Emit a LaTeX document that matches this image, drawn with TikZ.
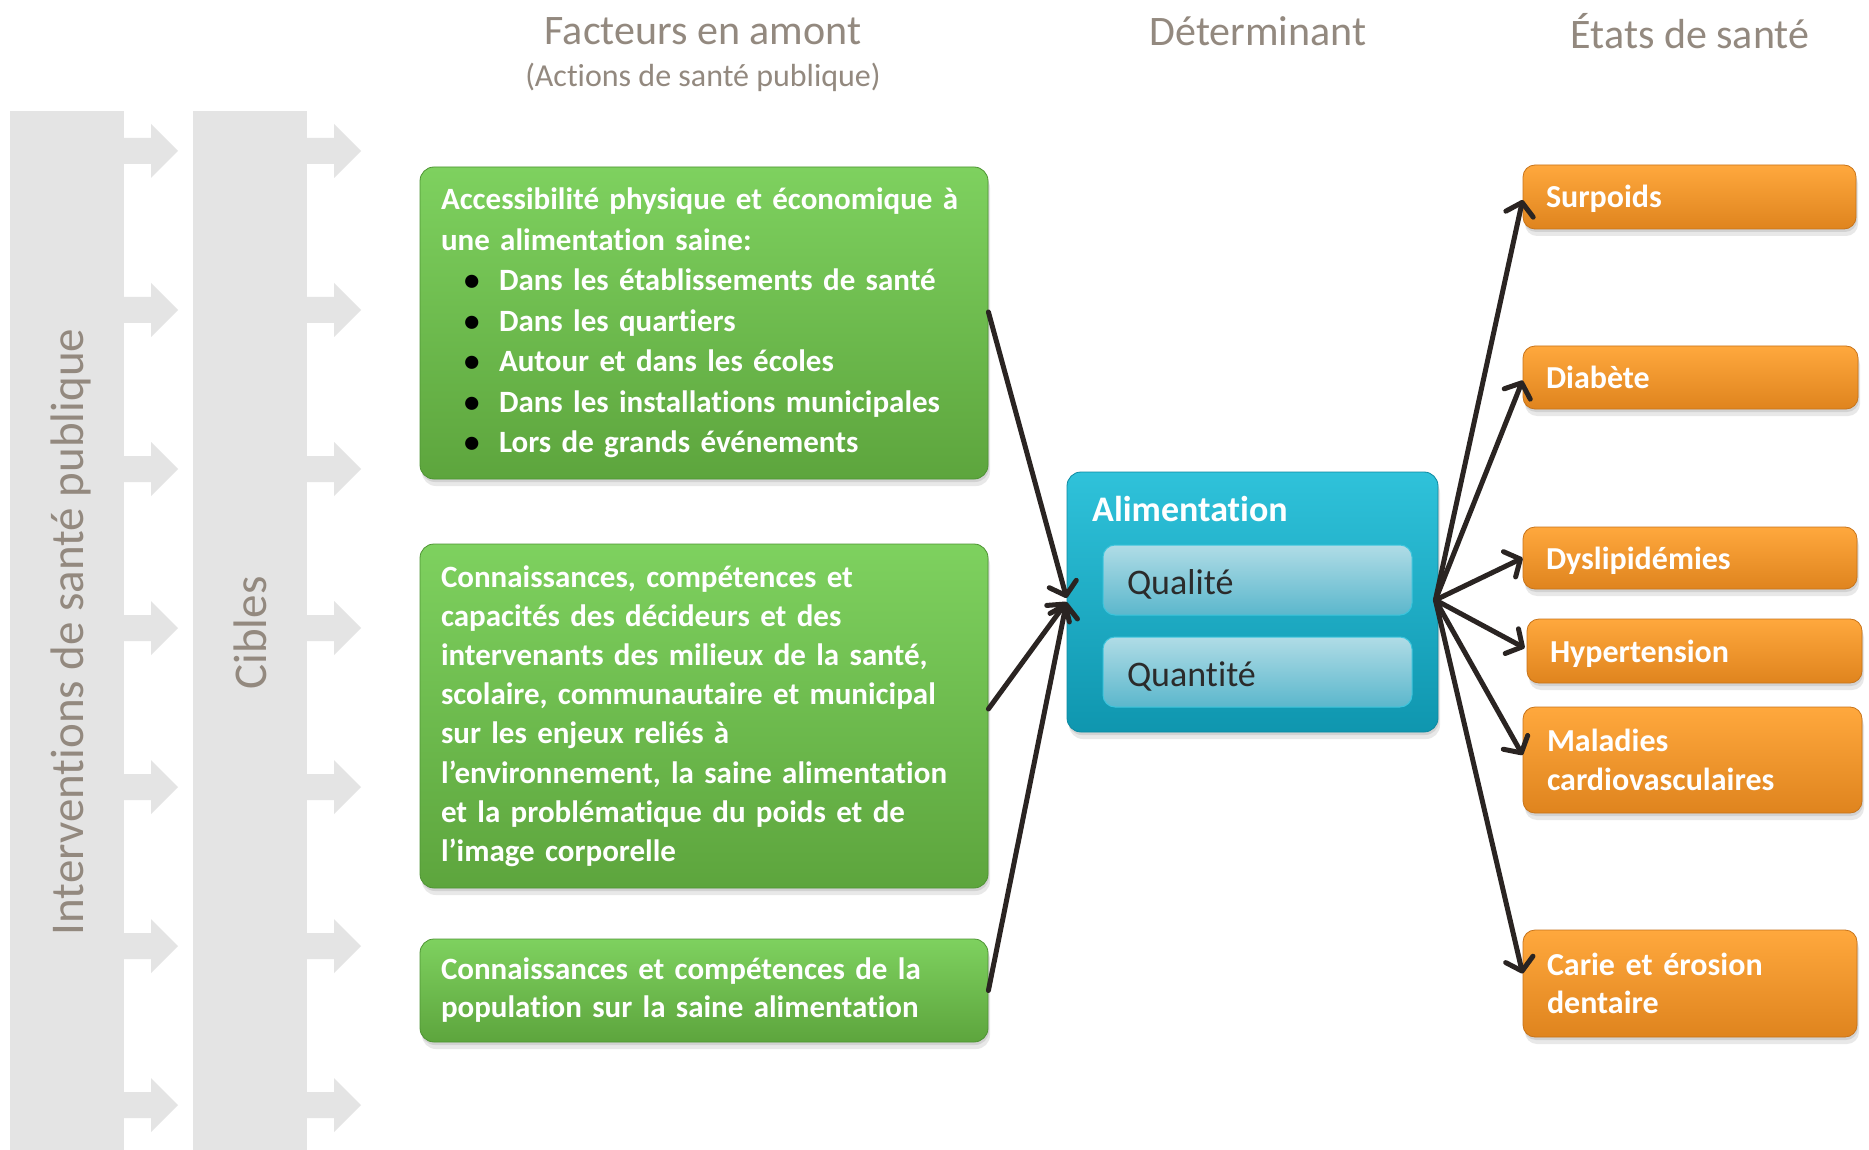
\documentclass[tikz,border=0pt]{standalone}
\usepackage{fontspec}
\setmainfont{Carlito}[Ligatures={NoCommon}]
\usetikzlibrary{arrows.meta,shadows,calc}

\definecolor{bandgray}{HTML}{E4E4E4}
\definecolor{labelgray}{HTML}{93897F}
\definecolor{linec}{HTML}{2A2422}
\definecolor{greenT}{HTML}{7ED15F}
\definecolor{greenB}{HTML}{5DA53D}
\definecolor{greenE}{HTML}{4E9433}
\definecolor{orangeT}{HTML}{FFA83D}
\definecolor{orangeB}{HTML}{DF841E}
\definecolor{orangeE}{HTML}{C8741A}
\definecolor{blueT}{HTML}{2FC2DA}
\definecolor{blueB}{HTML}{0F96AF}
\definecolor{blueE}{HTML}{0C8AA2}
\definecolor{innerT}{HTML}{B0DCE6}
\definecolor{innerB}{HTML}{5BB7CC}
\definecolor{innerE}{HTML}{3CC4DC}
\definecolor{qtext}{HTML}{2B2B2B}

\begin{document}
\begin{tikzpicture}[x=1pt,y=-1pt,
  softshadow/.style={
    drop shadow={opacity=0.2, shadow xshift=1pt, shadow yshift=-3pt},
    drop shadow={opacity=0.18, shadow xshift=2pt, shadow yshift=-7pt}},
  head/.style={text=labelgray, font=\fontsize{42pt}{48pt}\selectfont, inner sep=0},
  subhead/.style={text=labelgray, font=\fontsize{32pt}{38pt}\selectfont, inner sep=0},
  sidelabel/.style={text=labelgray, font=\fontsize{47pt}{52pt}\selectfont, inner sep=0, rotate=90},
  greenbox/.style={softshadow, rounded corners=14pt, top color=greenT, bottom color=greenB,
    draw=greenE, line width=0.8pt, text=white, align=left, anchor=center,
    minimum width=568pt, text width=526pt, inner xsep=21pt, inner ysep=0pt,
    font=\bfseries\fontsize{31pt}{39.2pt}\selectfont},
  orangebox/.style={softshadow, rounded corners=12pt, top color=orangeT, bottom color=orangeB,
    draw=orangeE, line width=0.8pt, text=white, align=left, anchor=center,
    inner xsep=23pt, inner ysep=0pt,
    font=\bfseries\fontsize{32pt}{38.7pt}\selectfont},
  oneline/.style={text height=24pt, text depth=2pt},
  bluebox/.style={softshadow, rounded corners=14pt, top color=blueT, bottom color=blueB,
    draw=blueE, line width=0.8pt, minimum width=371pt, minimum height=260pt, inner sep=0},
  innerbox/.style={rounded corners=12pt, top color=innerT, bottom color=innerB,
    draw=innerE, line width=1pt, text=qtext, align=left,
    minimum height=70pt, text width=261pt, inner xsep=24pt, inner ysep=0pt,
    text height=30pt, text depth=2pt,
    font=\fontsize{36pt}{40pt}\selectfont},
  conn/.style={draw=linec, line width=5pt, line cap=round,
    -{Straight Barb[length=12pt,width=28pt,line cap=round,line join=round]}}
]
\useasboundingbox (0,0) rectangle (1869,1150);
\fill[white] (0,0) rectangle (1869,1150);

% two grey bands with their arrows
\fill[bandgray] (10,111) rectangle (124,1150);
\fill[bandgray] (193,111) rectangle (307,1150);
\foreach \y in {151,310,469,628,787,946,1105}{
  \fill[bandgray] (124,{\y-13}) -- (151,{\y-13}) -- (151,{\y-27}) -- (178,\y)
    -- (151,{\y+27}) -- (151,{\y+13}) -- (124,{\y+13}) -- cycle;
  \fill[bandgray] (307,{\y-13}) -- (334,{\y-13}) -- (334,{\y-27}) -- (361,\y)
    -- (334,{\y+27}) -- (334,{\y+13}) -- (307,{\y+13}) -- cycle;
}
\node[sidelabel] (interv) at (71,632) {Interventions de santé publique};
\node[sidelabel] (cibles) at (250,633) {Cibles};

% column titles
\node[head] (hfact) at (703,31) {Facteurs en amont};
\node[subhead] (hact) at (703,77) {(Actions de santé publique)};
\node[head] (hdet) at (1258,31) {Déterminant};
\node[head] (hetat) at (1690,31) {États de santé};

% upstream factors
\node[greenbox, minimum height=312pt, font=\bfseries\fontsize{31pt}{40.5pt}\selectfont] (g1) at (704,323)
  {Accessibilité physique et économique à\\
   une alimentation saine:\\
   \hspace*{23pt}\makebox[35pt][l]{\color{black}\textbullet}Dans les établissements de santé\\
   \hspace*{23pt}\makebox[35pt][l]{\color{black}\textbullet}Dans les quartiers\\
   \hspace*{23pt}\makebox[35pt][l]{\color{black}\textbullet}Autour et dans les écoles\\
   \hspace*{23pt}\makebox[35pt][l]{\color{black}\textbullet}Dans les installations municipales\\
   \hspace*{23pt}\makebox[35pt][l]{\color{black}\textbullet}Lors de grands événements};
\node[greenbox, minimum height=344pt] (g2) at (704,716)
  {Connaissances, compétences et\\
   capacités des décideurs et des\\
   intervenants des milieux de la santé,\\
   scolaire, communautaire et municipal\\
   sur les enjeux reliés à\\
   l’environnement, la saine alimentation\\
   et la problématique du poids et de\\
   l’image corporelle};
\node[greenbox, minimum height=103pt, font=\bfseries\fontsize{31pt}{38pt}\selectfont] (g3) at (704,990.5)
  {Connaissances et compétences de la\\
   population sur la saine alimentation};

% determinant
\node[bluebox] (alim) at (1252.5,602) {};
\node[anchor=base west, inner sep=0, text=white, font=\bfseries\fontsize{36pt}{40pt}\selectfont] (alimtitle) at (1092,521) {Alimentation};
\node[innerbox] (qual) at (1257.5,580) {Qualité};
\node[innerbox] (quant) at (1257.5,672) {Quantité};

% health outcomes
\node[orangebox, oneline, minimum width=333pt, text width=287pt, minimum height=64pt] (surp) at (1689.5,197) {Surpoids};
\node[orangebox, oneline, minimum width=335pt, text width=289pt, minimum height=63pt] (diab) at (1690.5,377.5) {Diabète};
\node[orangebox, oneline, minimum width=334pt, text width=288pt, minimum height=62pt] (dysl) at (1690,558) {Dyslipidémies};
\node[orangebox, oneline, minimum width=335pt, text width=289pt, minimum height=64pt] (hyper) at (1694.5,651) {Hypertension};
\node[orangebox, minimum width=339pt, text width=291pt, inner xsep=24pt, minimum height=106pt] (mcv) at (1692.5,760) {Maladies\\cardiovasculaires};
\node[orangebox, minimum width=334pt, text width=286pt, inner xsep=24pt, minimum height=107pt] (carie) at (1690,983.5) {Carie et érosion\\dentaire};

% connectors into the determinant
\draw[conn] ([yshift=11pt]g1.east) -- ([yshift=4pt]alim.west);
\draw[conn] ([yshift=7pt]g2.east) -- (alim.west);
\draw[conn] (g3.east) -- (alim.west);

% connectors out to the health outcomes
\coordinate (fan) at ([xshift=-3pt,yshift=2pt]alim.east);
\draw[conn] (fan) -- ([yshift=-3pt]surp.west);
\draw[conn] (fan) -- ([yshift=-3pt]diab.west);
\draw[conn] (fan) -- (dysl.west);
\draw[conn] (fan) -- ([xshift=-2pt,yshift=3pt]hyper.west);
\draw[conn] (fan) -- ([yshift=5pt]mcv.west);
\draw[conn] (fan) -- ([yshift=10pt]carie.west);
\end{tikzpicture}
\end{document}
